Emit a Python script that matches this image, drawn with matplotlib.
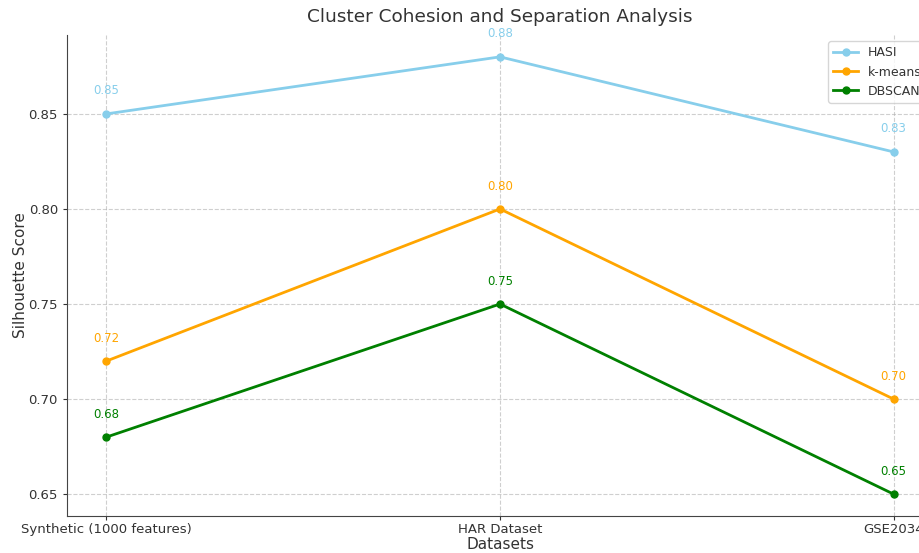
import numpy as np
import matplotlib
matplotlib.use("Agg")
import matplotlib.pyplot as plt

datasets = ["Synthetic (1000 features)", "HAR Dataset", "GSE2034"]
hasi = [0.85, 0.88, 0.83]
kmeans = [0.72, 0.80, 0.70]
dbscan = [0.68, 0.75, 0.65]

series = [("HASI", hasi, "skyblue"),
          ("k-means", kmeans, "orange"),
          ("DBSCAN", dbscan, "green")]

plt.rcParams["text.color"] = "#333333"
plt.rcParams["axes.labelcolor"] = "#333333"
plt.rcParams["xtick.color"] = "#333333"
plt.rcParams["ytick.color"] = "#333333"

fig = plt.figure(figsize=(9.2, 5.53), dpi=100)
ax = fig.add_axes([67 / 920, 1 - 516 / 553, (933 - 67) / 920, (516 - 35) / 553])

x = np.arange(len(datasets))
for name, vals, color in series:
    ax.plot(x, vals, marker="o", markersize=5, linewidth=2, color=color, label=name)
    for xi, v in zip(x, vals):
        ax.annotate(f"{v:.2f}", (xi, v), textcoords="offset points", xytext=(0, 14),
                    ha="center", fontsize=8.5, color=color)

ax.set_xticks(x)
ax.set_xticklabels(datasets, fontsize=9.5)
ax.tick_params(axis="x", pad=2, length=3)
ax.tick_params(axis="y", labelsize=9.5, length=3)
ax.set_xlabel("Datasets", fontsize=11, labelpad=1)
ax.set_ylabel("Silhouette Score", fontsize=11, labelpad=0)
ax.set_title("Cluster Cohesion and Separation Analysis", fontsize=13.3, pad=9)
ax.grid(True, linestyle="--", linewidth=0.8, alpha=0.6)
ax.spines["top"].set_visible(False)
ax.spines["right"].set_visible(False)
ax.spines["left"].set_color("#444444")
ax.spines["bottom"].set_color("#444444")
ax.legend(loc="upper right", fontsize=9)

fig.savefig("out.png", dpi=100)
